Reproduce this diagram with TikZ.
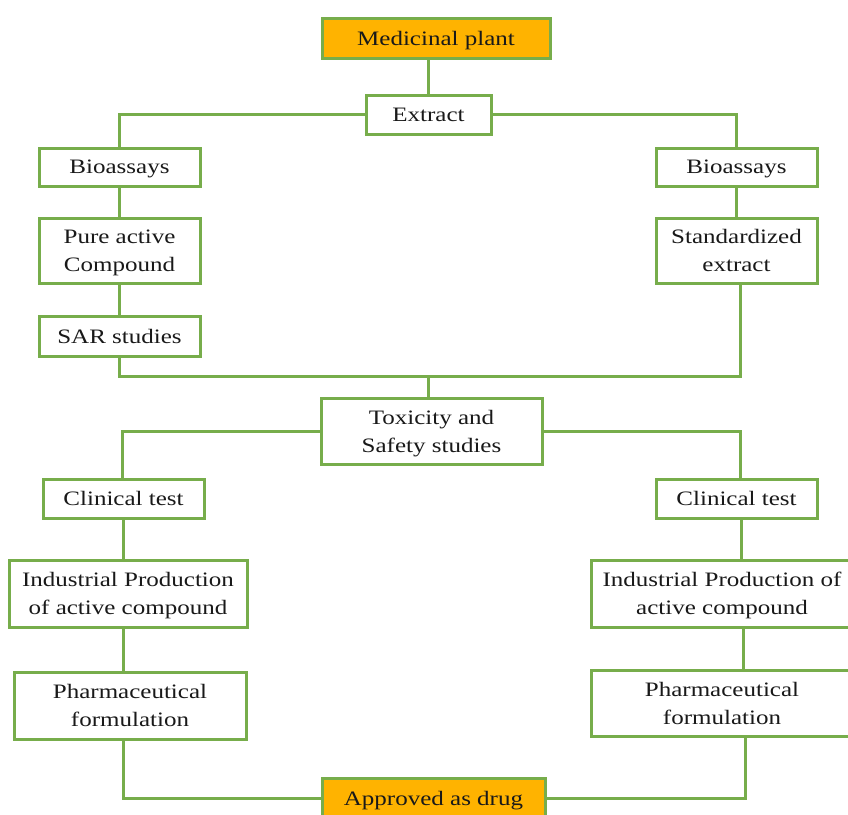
\documentclass[tikz,border=0pt]{standalone}
\usepackage{fontspec}
\setmainfont{Liberation Serif}[FakeStretch=1.22]
\definecolor{gline}{HTML}{77AD4B}
\definecolor{orng}{HTML}{FFB300}
\begin{document}
\begin{tikzpicture}[x=1pt,y=-1pt,
  box/.style={draw=gline,line width=3pt,fill=white,align=center,inner sep=0pt,
    text depth=-2pt,font=\fontsize{20.5}{28}\selectfont,text=black!90},
  obox/.style={box,fill=orng},
  conn/.style={draw=gline,line width=3pt}]
\clip (0,0) rectangle (848,814);
\fill[white] (0,0) rectangle (848,814);
% nodes
\node[obox,minimum width=228pt,minimum height=40pt] (mp) at (436,38) {Medicinal plant};
\node[box,minimum width=125pt,minimum height=39pt] (ex) at (428.5,114.5) {Extract};
\node[box,minimum width=161pt,minimum height=38pt] (b1) at (119.5,167) {Bioassays};
\node[box,minimum width=161pt,minimum height=65pt] (pa) at (119.5,250.5) {Pure active\\Compound};
\node[box,minimum width=161pt,minimum height=40pt] (sar) at (119.5,336) {SAR studies};
\node[box,minimum width=161pt,minimum height=38pt] (b2) at (736.5,167) {Bioassays};
\node[box,minimum width=161pt,minimum height=65pt] (se) at (736.5,250.5) {Standardized\\extract};
\node[box,minimum width=221pt,minimum height=66pt] (tox) at (431.5,431) {Toxicity and\\Safety studies};
\node[box,minimum width=161pt,minimum height=39pt] (c1) at (123.5,498.5) {Clinical test};
\node[box,minimum width=238pt,minimum height=67pt] (ip1) at (128,593.5) {Industrial Production\\of active compound};
\node[box,minimum width=232pt,minimum height=67pt] (ph1) at (130,705.5) {Pharmaceutical\\formulation};
\node[box,minimum width=161pt,minimum height=39pt] (c2) at (736.5,498.5) {Clinical test};
\node[box,minimum width=262pt,minimum height=67pt] (ip2) at (722,593.5) {Industrial Production of\\active compound};
\node[box,minimum width=262pt,minimum height=66pt] (ph2) at (722,703) {Pharmaceutical\\formulation};
\node[obox,minimum width=223pt,minimum height=40pt] (ap) at (433.5,798) {Approved as drug};
\coordinate (j) at (428,376);
% connectors
\draw[conn] (ex.north) -- (ex.north |- mp.south);
\draw[conn] (ex.west) -| (b1.north);
\draw[conn] (ex.east) -| (b2.north);
\draw[conn] (b1.south) -- (pa.north);
\draw[conn] (pa.south) -- (sar.north);
\draw[conn] (b2.south) -- (se.north);
\draw[conn] (sar.south) |- (j);
\draw[conn] (j) -| ([xshift=3.5pt]se.south);
\draw[conn] (j) -- (j |- tox.north);
\draw[conn] (tox.west) -| ([xshift=-1.5pt]c1.north);
\draw[conn] (tox.east) -| ([xshift=3.5pt]c2.north);
\draw[conn] (c1.south) -- (c1.south |- ip1.north);
\draw[conn] (ip1.south -| c1.south) -- (c1.south |- ph1.north);
\draw[conn] ([xshift=4.5pt]c2.south) -- ([xshift=4.5pt]c2.south |- ip2.north);
\draw[conn] ([xshift=6.5pt]c2.south |- ip2.south) -- ([xshift=6.5pt]c2.south |- ph2.north);
\draw[conn] (ph1.south -| c1.south) |- (ap.west);
\draw[conn] ([xshift=8.5pt]c2.south |- ph2.south) |- (ap.east);
\end{tikzpicture}
\end{document}
